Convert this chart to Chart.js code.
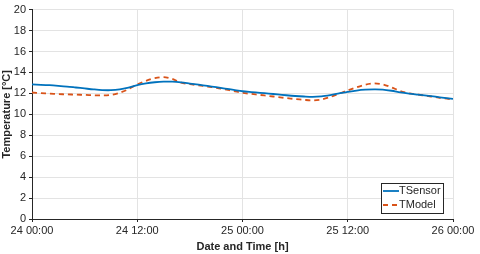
<!DOCTYPE html>
<html>
<head>
<meta charset="utf-8">
<script src="https://cdn.jsdelivr.net/npm/chart.js@4"></script>
<style>
  html, body { margin: 0; padding: 0; background: #fff; }
  #wrap { width: 480px; height: 254px; position: relative; }
</style>
</head>
<body>
<div id="wrap"><canvas id="tempChart"></canvas></div>
<script>
// hours since 24 00:00
const hours = [0,1,2,3,4,5,6,7,8,9,10,11,12,13,14,15,16,17,18,19,20,21,22,23,24,
  25,26,27,28,29,30,31,32,33,34,35,36,37,38,39,40,41,42,43,44,45,46,47,48];

const tSensor = [12.85,12.82,12.78,12.72,12.65,12.56,12.47,12.38,12.31,12.3,12.38,12.55,12.78,12.95,13.06,13.12,13.12,13.05,12.94,12.83,12.71,12.59,12.46,12.33,12.2,
  12.12,12.05,11.98,11.9,11.82,11.75,11.7,11.67,11.72,11.84,11.99,12.14,12.27,12.35,12.38,12.36,12.25,12.1,11.98,11.88,11.78,11.68,11.57,11.47];

const tModel = [12.08,12.02,11.97,11.93,11.9,11.88,11.85,11.82,11.8,11.85,12.05,12.4,12.85,13.2,13.45,13.56,13.38,13.02,12.88,12.77,12.65,12.52,12.38,12.22,12.05,
  11.95,11.85,11.75,11.65,11.55,11.46,11.38,11.33,11.42,11.65,11.97,12.28,12.58,12.83,12.95,12.86,12.57,12.22,12.0,11.88,11.76,11.64,11.52,11.43];

const xTickLabels = ['24 00:00', '24 12:00', '25 00:00', '25 12:00', '26 00:00'];
const yTicks = [0, 2, 4, 6, 8, 10, 12, 14, 16, 18, 20];

const axisColor = '#262626';
const gridColor = '#e3e3e3';
const fontFamily = '"Liberation Sans", Arial, Helvetica, sans-serif';

// legend box drawn inside the plot, lower right (MATLAB style)
const insideLegend = {
  id: 'insideLegend',
  afterDraw(chart) {
    const ctx = chart.ctx;
    const area = chart.chartArea;
    const w = 62, h = 30;
    const x0 = area.right - 10 - w;
    const y0 = area.bottom - 6 - h;
    ctx.save();
    ctx.fillStyle = '#fff';
    ctx.fillRect(x0, y0, w, h);
    ctx.strokeStyle = axisColor;
    ctx.lineWidth = 1;
    ctx.strokeRect(x0 + 0.5, y0 + 0.5, w, h);
    ctx.font = '11px ' + fontFamily;
    ctx.textBaseline = 'middle';
    chart.data.datasets.forEach((ds, i) => {
      const yy = y0 + 8 + i * 14;
      ctx.strokeStyle = ds.borderColor;
      ctx.lineWidth = 1.8;
      ctx.setLineDash(ds.borderDash || []);
      ctx.beginPath();
      ctx.moveTo(x0 + 2, yy);
      ctx.lineTo(x0 + 18, yy);
      ctx.stroke();
      ctx.setLineDash([]);
      ctx.fillStyle = axisColor;
      ctx.fillText(ds.label, x0 + 18, yy);
    });
    ctx.restore();
  }
};

const ctx = document.getElementById('tempChart').getContext('2d');
const tempChart = new Chart(ctx, {
  type: 'line',
  data: {
    datasets: [{
      label: 'TSensor',
      data: hours.map((h, i) => ({ x: h, y: tSensor[i] })),
      borderColor: '#0072BD',
      borderWidth: 1.8,
      pointRadius: 0,
      tension: 0.3,
      fill: false
    }, {
      label: 'TModel',
      data: hours.map((h, i) => ({ x: h, y: tModel[i] })),
      borderColor: '#D95319',
      borderWidth: 1.8,
      borderDash: [5, 4],
      pointRadius: 0,
      tension: 0.3,
      fill: false
    }]
  },
  options: {
    responsive: true,
    maintainAspectRatio: false,
    animation: false,
    layout: { padding: { top: 6, right: 27, left: 0, bottom: 0 } },
    scales: {
      x: {
        type: 'linear',
        min: 0,
        max: 48,
        afterFit: function(scale) { scale.height = 35; },
        ticks: {
          stepSize: 12,
          maxRotation: 0,
          autoSkip: false,
          padding: 2,
          color: axisColor,
          font: { family: fontFamily, size: 11 },
          callback: function(value) {
            return xTickLabels[value / 12];
          }
        },
        grid: { color: gridColor, tickLength: 3, tickColor: axisColor },
        border: { color: axisColor, width: 1 },
        title: {
          display: true,
          text: 'Date and Time [h]',
          color: axisColor,
          padding: { top: 0, bottom: 0 },
          font: { family: fontFamily, size: 11, weight: 'bold' }
        }
      },
      y: {
        min: 0,
        max: 20,
        afterFit: function(scale) { scale.width = 32; },
        afterBuildTicks: function(scale) {
          scale.ticks = yTicks.map(v => ({ value: v }));
        },
        ticks: {
          padding: 3,
          color: axisColor,
          font: { family: fontFamily, size: 11 }
        },
        grid: { color: gridColor, tickLength: 3, tickColor: axisColor },
        border: { color: axisColor, width: 1 },
        title: {
          display: true,
          text: 'Temperature [°C]',
          color: axisColor,
          padding: { top: 0, bottom: 0 },
          font: { family: fontFamily, size: 11, weight: 'bold' }
        }
      }
    },
    plugins: {
      legend: { display: false },
      tooltip: { enabled: false }
    }
  },
  plugins: [insideLegend]
});
</script>
</body>
</html>
